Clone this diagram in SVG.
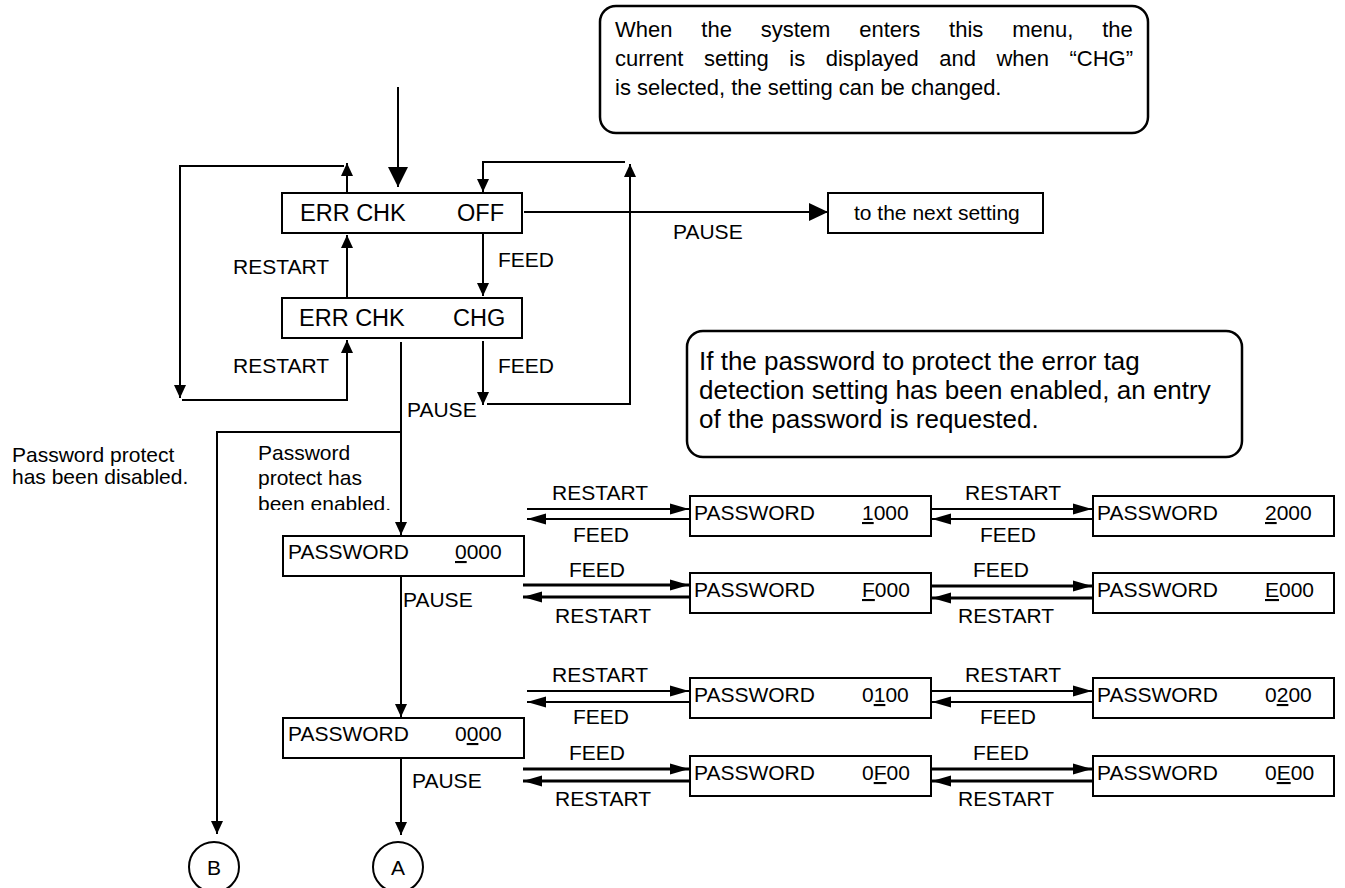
<svg xmlns="http://www.w3.org/2000/svg" width="1345" height="888" viewBox="0 0 1345 888">
<style>
.box{fill:#fff;stroke:#000;stroke-width:2}
.note{fill:#fff;stroke:#000;stroke-width:2.5}
.ln{fill:none;stroke:#000;stroke-width:2}
.thin{fill:none;stroke:#000;stroke-width:1.8}
.thick{fill:none;stroke:#000;stroke-width:2.8}
text{font-family:'Liberation Sans',Arial,Helvetica,sans-serif;fill:#000}
.t{font-size:21px}
.bt{font-size:23.5px}
.c1{font-size:22px}
.c2{font-size:26px}
.u{text-decoration:underline}
</style>
<defs>
<marker id="aS" markerUnits="userSpaceOnUse" markerWidth="13" markerHeight="12" refX="13" refY="6" orient="auto" overflow="visible"><path d="M0,0 L13,6 L0,12z"/></marker>
<marker id="aL" markerUnits="userSpaceOnUse" markerWidth="20" markerHeight="20" refX="20" refY="10" orient="auto" overflow="visible"><path d="M0,0 L20,10 L0,20z"/></marker>
<marker id="aM" markerUnits="userSpaceOnUse" markerWidth="19" markerHeight="18" refX="19" refY="9" orient="auto" overflow="visible"><path d="M0,0 L19,9 L0,18z"/></marker>
<marker id="aP" markerUnits="userSpaceOnUse" markerWidth="19" markerHeight="11" refX="19" refY="5.5" orient="auto" overflow="visible"><path d="M0,0 L19,5.5 L0,11z"/></marker>
<clipPath id="clipEn"><rect x="240" y="440" width="160" height="70"/></clipPath>
</defs>
<rect width="1345" height="888" fill="#fff"/>

<g id="note-top">
<rect class="note" x="600" y="6" width="548" height="127" rx="16"/>
<text class="c1" x="615" y="37" style="word-spacing:22.7px">When the system enters this menu, the</text>
<text class="c1" x="615" y="66" style="word-spacing:14.4px">current setting is displayed and when “CHG”</text>
<text class="c1" x="615" y="95">is selected, the setting can be changed.</text>
</g>

<g id="note-password">
<rect class="note" x="687" y="331" width="555" height="126" rx="16"/>
<text class="c2" x="699" y="370">If the password to protect the error tag</text>
<text class="c2" x="699" y="399">detection setting has been enabled, an entry</text>
<text class="c2" x="699" y="428">of the password is requested.</text>
</g>

<g id="connectors">
<path class="ln" d="M398,87 V187" marker-end="url(#aL)"/>
<path class="ln" d="M347,193 V163" marker-end="url(#aS)"/>
<path class="ln" d="M344,166 H180 V398" marker-end="url(#aS)"/>
<path class="ln" d="M182,400 H347 V340" marker-end="url(#aS)"/>
<path class="ln" d="M347,298 V235" marker-end="url(#aS)"/>
<path class="ln" d="M483,233 V296" marker-end="url(#aS)"/>
<path class="ln" d="M483,341 V405" marker-end="url(#aS)"/>
<path class="ln" d="M487,404 H630 V164" marker-end="url(#aS)"/>
<path class="ln" d="M625,162 H483 V192" marker-end="url(#aS)"/>
<path class="ln" d="M524,212 H828" marker-end="url(#aM)"/>
<path class="ln" d="M401,342 V535" marker-end="url(#aS)"/>
<path class="ln" d="M401,432 H217 V834" marker-end="url(#aS)"/>
<path class="ln" d="M401,577 V717" marker-end="url(#aS)"/>
<path class="ln" d="M401,759 V835" marker-end="url(#aS)"/>

<path class="thin" d="M527,509 H689" marker-end="url(#aP)"/>
<path class="thin" d="M689,519 H527" marker-end="url(#aP)"/>
<path class="thick" d="M523,585 H689" marker-end="url(#aP)"/>
<path class="thick" d="M689,597 H523" marker-end="url(#aP)"/>
<path class="thin" d="M932,509 H1092" marker-end="url(#aP)"/>
<path class="thin" d="M1092,519 H932" marker-end="url(#aP)"/>
<path class="thick" d="M932,586 H1092" marker-end="url(#aP)"/>
<path class="thick" d="M1092,598 H932" marker-end="url(#aP)"/>

<path class="thin" d="M527,691 H689" marker-end="url(#aP)"/>
<path class="thin" d="M689,702 H527" marker-end="url(#aP)"/>
<path class="thick" d="M523,769 H689" marker-end="url(#aP)"/>
<path class="thick" d="M689,781 H523" marker-end="url(#aP)"/>
<path class="thin" d="M932,691 H1092" marker-end="url(#aP)"/>
<path class="thin" d="M1092,702 H932" marker-end="url(#aP)"/>
<path class="thick" d="M932,769 H1092" marker-end="url(#aP)"/>
<path class="thick" d="M1092,781 H932" marker-end="url(#aP)"/>

<g class="labels">
<text class="t" x="233" y="274">RESTART</text>
<text class="t" x="233" y="373">RESTART</text>
<text class="t" x="498" y="267">FEED</text>
<text class="t" x="498" y="373">FEED</text>
<text class="t" x="407" y="417">PAUSE</text>
<text class="t" x="673" y="239">PAUSE</text>
<text class="t" x="12" y="462">Password protect</text>
<text class="t" x="12" y="484">has been disabled.</text>
<text class="t" x="258" y="460">Password</text>
<text class="t" x="258" y="485">protect has</text>
<text class="t" x="258" y="511" clip-path="url(#clipEn)">been enabled.</text>
<text class="t" x="403" y="607">PAUSE</text>
<text class="t" x="412" y="788">PAUSE</text>

<text class="t" x="552" y="500">RESTART</text>
<text class="t" x="573" y="542">FEED</text>
<text class="t" x="569" y="577">FEED</text>
<text class="t" x="555" y="623">RESTART</text>
<text class="t" x="965" y="500">RESTART</text>
<text class="t" x="980" y="542">FEED</text>
<text class="t" x="973" y="577">FEED</text>
<text class="t" x="958" y="623">RESTART</text>

<text class="t" x="552" y="682">RESTART</text>
<text class="t" x="573" y="724">FEED</text>
<text class="t" x="569" y="760">FEED</text>
<text class="t" x="555" y="806">RESTART</text>
<text class="t" x="965" y="682">RESTART</text>
<text class="t" x="980" y="724">FEED</text>
<text class="t" x="973" y="760">FEED</text>
<text class="t" x="958" y="806">RESTART</text>
</g>
</g>

<g id="n-err-off">
<rect class="box" x="282" y="193" width="240" height="40"/>
<text class="bt" x="300" y="221">ERR CHK</text>
<text class="bt" x="457" y="221">OFF</text>
</g>
<g id="n-err-chg">
<rect class="box" x="282" y="298" width="240" height="40"/>
<text class="bt" x="299" y="326">ERR CHK</text>
<text class="bt" x="453" y="326">CHG</text>
</g>
<g id="n-next">
<rect class="box" x="828" y="193" width="215" height="40"/>
<text class="t" x="854" y="220">to the next setting</text>
</g>

<g id="n-pw-0000-a">
<rect class="box" x="283" y="536" width="241" height="40"/>
<text class="t" x="288" y="559">PASSWORD</text>
<text class="t" x="455" y="559"><tspan class="u">0</tspan>000</text>
</g>
<g id="n-pw-1000">
<rect class="box" x="690" y="496" width="241" height="40"/>
<text class="t" x="694" y="520">PASSWORD</text>
<text class="t" x="862" y="520"><tspan class="u">1</tspan>000</text>
</g>
<g id="n-pw-2000">
<rect class="box" x="1093" y="496" width="241" height="40"/>
<text class="t" x="1097" y="520">PASSWORD</text>
<text class="t" x="1265" y="520"><tspan class="u">2</tspan>000</text>
</g>
<g id="n-pw-f000">
<rect class="box" x="690" y="573" width="241" height="40"/>
<text class="t" x="694" y="597">PASSWORD</text>
<text class="t" x="862" y="597"><tspan class="u">F</tspan>000</text>
</g>
<g id="n-pw-e000">
<rect class="box" x="1093" y="573" width="241" height="40"/>
<text class="t" x="1097" y="597">PASSWORD</text>
<text class="t" x="1265" y="597"><tspan class="u">E</tspan>000</text>
</g>

<g id="n-pw-0000-b">
<rect class="box" x="283" y="718" width="241" height="40"/>
<text class="t" x="288" y="741">PASSWORD</text>
<text class="t" x="455" y="741">0<tspan class="u">0</tspan>00</text>
</g>
<g id="n-pw-0100">
<rect class="box" x="690" y="678" width="241" height="40"/>
<text class="t" x="694" y="702">PASSWORD</text>
<text class="t" x="862" y="702">0<tspan class="u">1</tspan>00</text>
</g>
<g id="n-pw-0200">
<rect class="box" x="1093" y="678" width="241" height="40"/>
<text class="t" x="1097" y="702">PASSWORD</text>
<text class="t" x="1265" y="702">0<tspan class="u">2</tspan>00</text>
</g>
<g id="n-pw-0f00">
<rect class="box" x="690" y="756" width="241" height="40"/>
<text class="t" x="694" y="780">PASSWORD</text>
<text class="t" x="862" y="780">0<tspan class="u">F</tspan>00</text>
</g>
<g id="n-pw-0e00">
<rect class="box" x="1093" y="756" width="241" height="40"/>
<text class="t" x="1097" y="780">PASSWORD</text>
<text class="t" x="1265" y="780">0<tspan class="u">E</tspan>00</text>
</g>

<g id="n-B">
<circle class="box" cx="214" cy="867" r="25"/>
<text class="t" x="214" y="875" text-anchor="middle">B</text>
</g>
<g id="n-A">
<circle class="box" cx="398" cy="867" r="25"/>
<text class="t" x="398" y="875" text-anchor="middle">A</text>
</g>
</svg>
